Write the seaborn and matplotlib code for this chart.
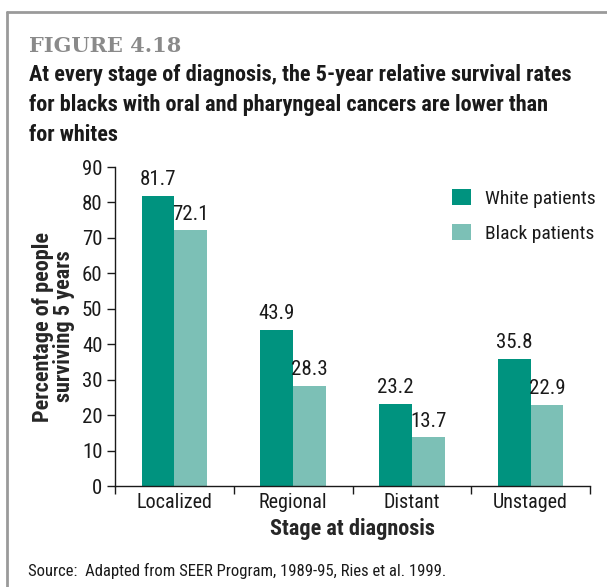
import pandas as pd
import matplotlib.pyplot as plt
from matplotlib.lines import Line2D
import seaborn as sns

# data
stages = ['Localized', 'Regional', 'Distant', 'Unstaged']
white_rates = [81.7, 43.9, 23.2, 35.8]
black_rates = [72.1, 28.3, 13.7, 22.9]
groups = ['White patients', 'Black patients']
colors = ['#00937f', '#7cc0b6']

df = pd.DataFrame({
    'stage': stages * 2,
    'rate': white_rates + black_rates,
    'group': [groups[0]] * len(stages) + [groups[1]] * len(stages),
})

sns.set_style('white')
plt.rcParams['font.family'] = ['Roboto Condensed', 'DejaVu Sans']
plt.rcParams['text.color'] = '#1a1a1a'
plt.rcParams['xtick.color'] = '#1a1a1a'
plt.rcParams['ytick.color'] = '#1a1a1a'

fig = plt.figure(figsize=(6.07, 5.87), dpi=100)
ax = fig.add_axes([0.1895, 0.172, 0.972 - 0.1895, 0.7155 - 0.172])

sns.barplot(data=df, x='stage', y='rate', hue='group', palette=colors,
            width=0.55, saturation=1, linewidth=0, ax=ax)

for cont in ax.containers:
    ax.bar_label(cont, fmt='%.1f', padding=5, fontsize=15)

ax.set_ylim(0, 90)
ax.set_xlim(-0.5, 3.5)
ax.set_yticks(range(0, 91, 10))
ax.tick_params(axis='y', length=6, width=1, direction='out', labelsize=15, pad=3, left=True)
# ticks between the groups, names in the middle
ax.set_xticks([-0.5, 0.5, 1.5, 2.5, 3.5])
ax.set_xticklabels([])
ax.set_xticks(range(len(stages)), minor=True)
ax.set_xticklabels(stages, minor=True, fontsize=14.5)
ax.tick_params(axis='x', which='major', length=6, width=1, direction='out', bottom=True)
ax.tick_params(axis='x', which='minor', length=0, pad=5)

for side in ['top', 'right']:
    ax.spines[side].set_visible(False)
for side in ['left', 'bottom']:
    ax.spines[side].set_color('#1a1a1a')
    ax.spines[side].set_linewidth(1)

ax.set_xlabel('Stage at diagnosis', fontsize=16, fontweight='bold', labelpad=4)
ax.set_ylabel('Percentage of people\nsurviving 5 years', fontsize=16,
              fontweight='bold', labelpad=5, linespacing=0.95)

leg = ax.legend(loc='upper right', bbox_to_anchor=(1.013, 0.93), frameon=False,
                fontsize=14, handlelength=0.95, handleheight=0.85,
                labelspacing=0.85, handletextpad=0.75,
                borderaxespad=0, borderpad=0)

# header texts
fig.text(0.048, 0.911, 'FIGURE 4.18', fontsize=15, fontweight='bold',
         color='#8a8a8a', family=['DejaVu Serif'])
fig.text(0.048, 0.751,
         'At every stage of diagnosis, the 5-year relative survival rates\n'
         'for blacks with oral and pharyngeal cancers are lower than\n'
         'for whites',
         fontsize=16, fontweight='bold', linespacing=1.48, va='bottom')
fig.text(0.046, 0.018, 'Source:  Adapted from SEER Program, 1989-95, Ries et al. 1999.',
         fontsize=12)

# gray frame around the figure
fig.add_artist(Line2D([0.012, 0.012], [0.0, 0.98], transform=fig.transFigure,
                      color='#9a9a9a', lw=2))
fig.add_artist(Line2D([0.012, 1.0], [0.98, 0.98], transform=fig.transFigure,
                      color='#9a9a9a', lw=2))

fig.savefig('out.png', dpi=100)
